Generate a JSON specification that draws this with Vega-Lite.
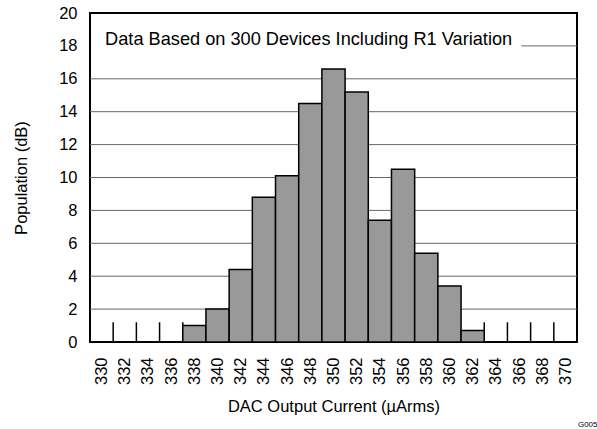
{
  "$schema": "https://vega.github.io/schema/vega-lite/v6.json",
  "width": 487,
  "height": 329,
  "autosize": {"type": "none"},
  "padding": {"left": 90, "top": 13, "right": 20, "bottom": 87},
  "background": "white",
  "config": {
    "font": "Liberation Sans",
    "view": {"stroke": "black", "strokeWidth": 2},
    "axis": {"labelFont": "Liberation Sans", "titleFont": "Liberation Sans", "labelColor": "black", "titleColor": "black", "titleFontWeight": "normal", "domain": false, "ticks": false, "grid": false, "labelOverlap": false, "labelBound": false}
  },
  "title": {"text": "G005", "orient": "bottom", "anchor": "end", "fontSize": 8, "fontWeight": "normal", "font": "Liberation Sans", "color": "black", "offset": 6, "dx": 20},
  "datasets": {
    "bins": [
      {"x": 337, "x2": 339, "y2": 0, "y": 1.0},
      {"x": 339, "x2": 341, "y2": 0, "y": 2.0},
      {"x": 341, "x2": 343, "y2": 0, "y": 4.4},
      {"x": 343, "x2": 345, "y2": 0, "y": 8.8},
      {"x": 345, "x2": 347, "y2": 0, "y": 10.1},
      {"x": 347, "x2": 349, "y2": 0, "y": 14.5},
      {"x": 349, "x2": 351, "y2": 0, "y": 16.6},
      {"x": 351, "x2": 353, "y2": 0, "y": 15.2},
      {"x": 353, "x2": 355, "y2": 0, "y": 7.4},
      {"x": 355, "x2": 357, "y2": 0, "y": 10.5},
      {"x": 357, "x2": 359, "y2": 0, "y": 5.4},
      {"x": 359, "x2": 361, "y2": 0, "y": 3.4},
      {"x": 361, "x2": 363, "y2": 0, "y": 0.7}
    ],
    "gridrows": [
      {"y": 2, "y2": 2, "x": 329, "x2": 371},
      {"y": 4, "y2": 4, "x": 329, "x2": 371},
      {"y": 6, "y2": 6, "x": 329, "x2": 371},
      {"y": 8, "y2": 8, "x": 329, "x2": 371},
      {"y": 10, "y2": 10, "x": 329, "x2": 371},
      {"y": 12, "y2": 12, "x": 329, "x2": 371},
      {"y": 14, "y2": 14, "x": 329, "x2": 371},
      {"y": 16, "y2": 16, "x": 329, "x2": 371},
      {"y": 18, "y2": 18, "x": 366.2, "x2": 371}
    ],
    "tickrows": [
      {"x": 331, "x2": 331, "y": 0, "y2": 1.2}, {"x": 333, "x2": 333, "y": 0, "y2": 1.2},
      {"x": 335, "x2": 335, "y": 0, "y2": 1.2}, {"x": 337, "x2": 337, "y": 0, "y2": 1.2},
      {"x": 363, "x2": 363, "y": 0, "y2": 1.2}, {"x": 365, "x2": 365, "y": 0, "y2": 1.2},
      {"x": 367, "x2": 367, "y": 0, "y2": 1.2}, {"x": 369, "x2": 369, "y": 0, "y2": 1.2}
    ]
  },
  "encoding": {
    "x": {"field": "x", "type": "quantitative", "scale": {"domain": [329, 371], "nice": false, "zero": false},
          "axis": {"values": [330,332,334,336,338,340,342,344,346,348,350,352,354,356,358,360,362,364,366,368,370], "labelOverlap": false, "labelAngle": -90, "labelAlign": "right", "labelBaseline": "middle", "labelFontSize": 16.5, "labelPadding": 15, "title": "DAC Output Current (µArms)", "titleFontSize": 16.5, "titlePadding": 14}},
    "y": {"field": "y", "type": "quantitative", "scale": {"domain": [0, 20], "nice": false},
          "axis": {"values": [0,2,4,6,8,10,12,14,16,18,20], "labelOverlap": false, "labelFontSize": 16.5, "labelPadding": 13, "title": "Population (dB)", "titleFontSize": 16.5, "titlePadding": 29}}
  },
  "layer": [
    {
      "data": {"name": "gridrows"},
      "mark": {"type": "rule", "color": "#666666", "strokeWidth": 1},
      "encoding": {"x2": {"field": "x2"}, "y2": {"field": "y2"}}
    },
    {
      "data": {"name": "tickrows"},
      "mark": {"type": "rule", "color": "black", "strokeWidth": 1.5},
      "encoding": {"y2": {"field": "y2"}}
    },
    {
      "data": {"name": "bins"},
      "mark": {"type": "rect", "fill": "#999999", "stroke": "black", "strokeWidth": 1.5},
      "encoding": {"x2": {"field": "x2"}, "y2": {"field": "y2"}}
    },
    {
      "data": {"values": [{"label": "Data Based on 300 Devices Including R1 Variation", "x": 330.3, "y": 18.36}]},
      "mark": {"type": "text", "align": "left", "baseline": "middle", "fontSize": 18.2, "font": "Liberation Sans", "color": "black"},
      "encoding": {"text": {"field": "label"}}
    }
  ]
}
